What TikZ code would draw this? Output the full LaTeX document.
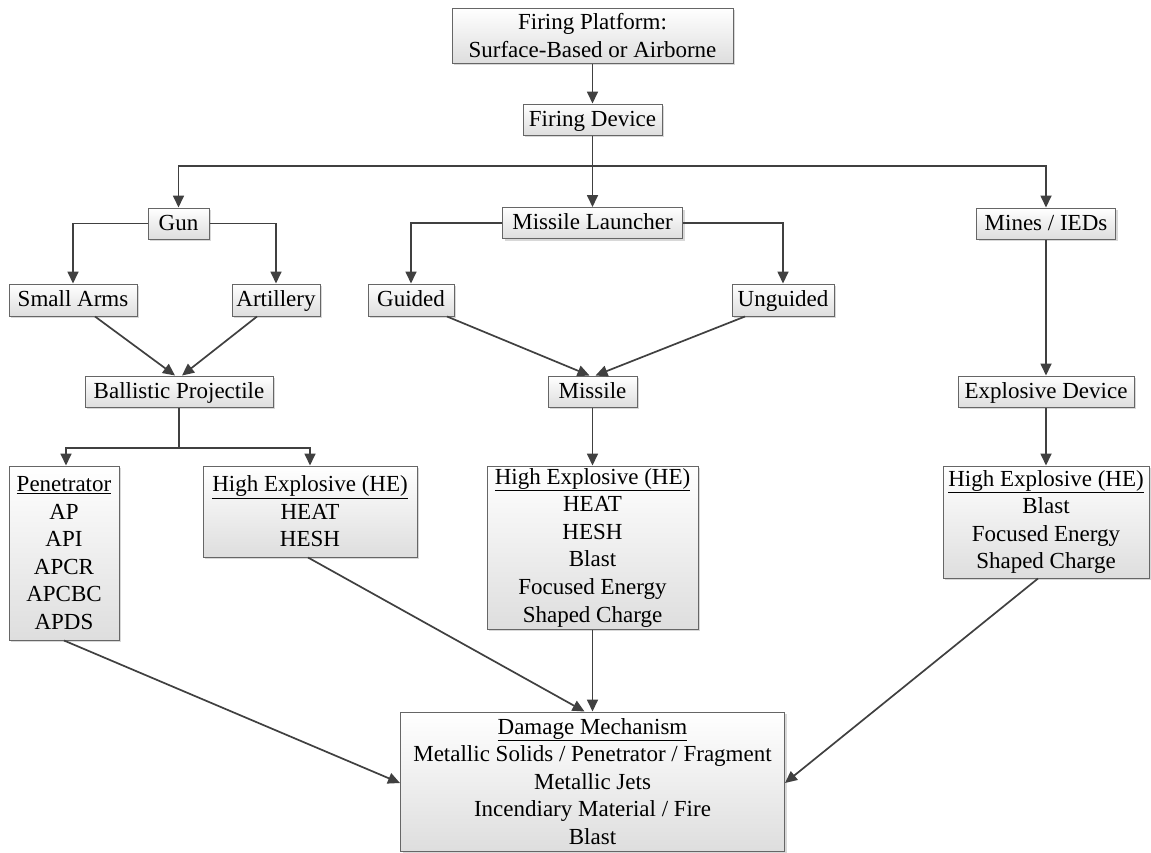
\documentclass[tikz,border=0pt]{standalone}
\usepackage{fontspec}
\setmainfont{Liberation Serif}
\usetikzlibrary{arrows.meta,shadows,calc}
\definecolor{linec}{HTML}{404040}
\definecolor{boxline}{HTML}{666666}
\tikzset{
  box/.style={rectangle, draw=boxline, line width=1pt, inner sep=0pt, align=center,
    top color=white, bottom color=black!13,
    drop shadow={shadow xshift=2.2pt, shadow yshift=-2.2pt, fill=black!25, opacity=0.6},
    font=\fontsize{23}{27.6}\selectfont},
  onebox/.style={box, text height=17pt, text depth=4pt, minimum height=31pt},
  arr/.style={draw=linec, line width=1.7pt, -{Triangle[length=12pt,width=11pt]}},
  ln/.style={draw=linec, line width=1.7pt},
}
\begin{document}
\begin{tikzpicture}[x=1pt,y=-1pt]
\useasboundingbox[fill=white] (0,0) rectangle (1151,852);
% row 0
\node[box, minimum width=281pt, minimum height=55pt] (fp) at (592.5,35.5) {Firing Platform:\\Surface-Based or Airborne};
\node[onebox, minimum width=139pt] (fd) at (592.5,119.5) {Firing Device};
% row 2
\node[onebox, minimum width=61pt] (gun) at (178.5,223.5) {Gun};
\node[onebox, minimum width=180pt] (ml) at (592.5,223) {Missile Launcher};
\node[onebox, minimum width=139pt] (mines) at (1046,223.5) {Mines / IEDs};
% row 3
\node[onebox, minimum width=128pt, minimum height=32pt] (sa) at (73,300) {Small Arms};
\node[onebox, minimum width=88pt, minimum height=32pt] (art) at (276,300) {Artillery};
\node[onebox, minimum width=86pt, minimum height=32pt] (guided) at (411,300) {Guided};
\node[onebox, minimum width=102pt, minimum height=32pt] (unguided) at (783,300) {Unguided};
% row 4
\node[onebox, minimum width=188pt] (bp) at (179,391.5) {Ballistic Projectile};
\node[onebox, minimum width=89pt] (missile) at (592.5,391.5) {Missile};
\node[onebox, minimum width=176pt] (ed) at (1046,391.5) {Explosive Device};
% row 5
\node[box, minimum width=110pt, minimum height=174pt] (pen) at (64,553) {\underline{Penetrator}\\AP\\API\\APCR\\APCBC\\APDS};
\node[box, minimum width=214pt, minimum height=91pt] (he1) at (310,511.5) {\underline{High Explosive (HE)}\\HEAT\\HESH};
\node[box, minimum width=211pt, minimum height=163pt] (he2) at (592.5,547.5) {\underline{High Explosive (HE)}\\HEAT\\HESH\\Blast\\Focused Energy\\Shaped Charge};
\node[box, minimum width=206pt, minimum height=112pt] (he3) at (1046,522) {\underline{High Explosive (HE)}\\Blast\\Focused Energy\\Shaped Charge};
% bottom
\node[box, minimum width=384pt, minimum height=139pt] (dm) at (592.5,781.5) {\underline{Damage Mechanism}\\Metallic Solids / Penetrator / Fragment\\Metallic Jets\\Incendiary Material / Fire\\Blast};

% connectors
\draw[arr] (fp.south) -- (fd.north);
\coordinate (bar) at (592.5,166);
\draw[arr] (fd.south) -- (ml.north);
\draw[arr] (bar) -| (gun.north);
\draw[arr] (bar) -| (mines.north);
\draw[arr] (gun.west) -| (sa.north);
\draw[arr] (gun.east) -| (art.north);
\draw[arr] (ml.west) -| (guided.north);
\draw[arr] (ml.east) -| (unguided.north);
\draw[arr] ([xshift=22pt]sa.south) -- ([xshift=-4pt]bp.north);
\draw[arr] ([xshift=-19pt]art.south) -- ([xshift=3pt]bp.north);
\draw[arr] ([xshift=36pt]guided.south) -- ([xshift=-3pt]missile.north);
\draw[arr] ([xshift=-38pt]unguided.south) -- ([xshift=3pt]missile.north);
\coordinate (bpj) at (179,448);
\draw[ln] (bp.south) -- (bpj);
\draw[arr] (bpj) -| ([xshift=2pt]pen.north);
\draw[arr] (bpj) -| (he1.north);
\draw[arr] (missile.south) -- (he2.north);
\draw[arr] (mines.south) -- (ed.north);
\draw[arr] (ed.south) -- (he3.north);
\draw[arr] (pen.south) -- ([yshift=-1.5pt]dm.west);
\draw[arr] ([xshift=-2pt]he1.south) -- ([xshift=-8pt]dm.north);
\draw[arr] (he2.south) -- (dm.north);
\draw[arr] ([xshift=-8pt]he3.south) -- ([yshift=-1.5pt]dm.east);
\end{tikzpicture}
\end{document}
